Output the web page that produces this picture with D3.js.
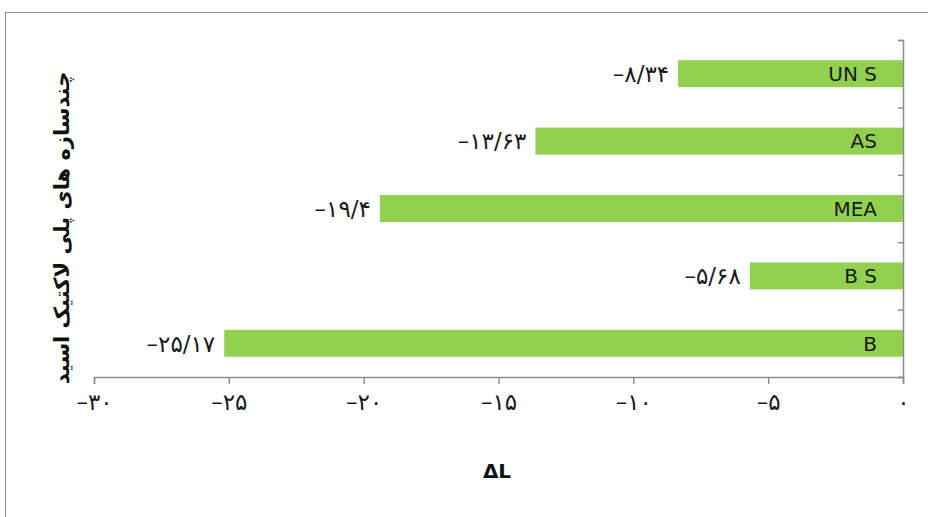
<!DOCTYPE html>
<html>
<head>
<meta charset="utf-8">
<script src="https://cdn.jsdelivr.net/npm/d3@7"></script>
<style>
  body { margin: 0; background: #fff; }
  text { font-family: "DejaVu Sans", sans-serif; }
</style>
</head>
<body>
<svg id="chart"></svg>
<script>
// data, top to bottom
const categories = ["UN S", "AS", "MEA", "B S", "B"];
const values = [-8.34, -13.63, -19.4, -5.68, -25.17];
const xTicks = [-30, -25, -20, -15, -10, -5, 0];
const yTitle = "چندسازه های پلی لاکتیک اسید";
const xTitle = "ΔL";

const W = 928, H = 517;
const faDigits = "۰۱۲۳۴۵۶۷۸۹";
// persian digits, "/" as decimal sign like the original
function fa(v) {
  const s = String(Math.abs(v)).replace(".", "/").replace(/[0-9]/g, (d) => faDigits[+d]);
  return (v < 0 ? "\u2013" : "") + s;
}

const svg = d3.select("#chart").attr("width", W).attr("height", H);

// outer frame
svg.append("rect")
  .attr("x", 5.5).attr("y", 12.5)
  .attr("width", 960).attr("height", 540)
  .attr("fill", "none").attr("stroke", "#8e8e8e");

const pLeft = 94, pRight = 903, pTop = 40, pBottom = 377;
const x = d3.scaleLinear([-30, 0], [pLeft, pRight]);
const y = d3.scaleBand(categories, [pTop, pBottom]).paddingInner(0.6).paddingOuter(0.3);
const yEdge = d3.scaleLinear([0, categories.length], [pTop, pBottom]);

// bars
svg.selectAll("rect.bar")
  .data(values)
  .join("rect")
  .attr("class", "bar")
  .attr("x", (d) => x(d))
  .attr("y", (d, i) => y(categories[i]))
  .attr("width", (d) => x(0) - x(d))
  .attr("height", y.bandwidth())
  .attr("fill", "#92d050");

// value labels
svg.selectAll("text.val")
  .data(values)
  .join("text")
  .attr("class", "val")
  .attr("x", (d) => x(d) - 9)
  .attr("y", (d, i) => y(categories[i]) + y.bandwidth() / 2)
  .attr("dy", "0.36em")
  .attr("text-anchor", "end")
  .attr("font-size", 23)
  .attr("letter-spacing", 1)
  .attr("fill", "#1a1a1a")
  .text((d) => fa(d));

// category names inside bars
svg.selectAll("text.cat")
  .data(categories)
  .join("text")
  .attr("class", "cat")
  .attr("x", pRight - 26)
  .attr("y", (d) => y(d) + y.bandwidth() / 2)
  .attr("dy", "0.36em")
  .attr("text-anchor", "end")
  .attr("font-size", 20)
  .attr("font-family", "Open Sans, sans-serif")
  .attr("fill", "#1a1a1a")
  .text((d) => d);

// x axis
const xAxis = svg.append("g")
  .attr("transform", "translate(0," + pBottom + ")")
  .call(d3.axisBottom(x).tickValues(xTicks).tickSize(7).tickPadding(10).tickFormat(fa));
xAxis.select(".domain").attr("stroke", "#8e8e8e").attr("stroke-width", 1.5);
xAxis.selectAll(".tick line").attr("stroke", "#8e8e8e").attr("stroke-width", 1.5);
xAxis.selectAll(".tick text").attr("font-size", 23).attr("letter-spacing", 1).attr("fill", "#1a1a1a")
  .attr("font-family", "DejaVu Sans, sans-serif");

// y axis on the zero line, ticks between categories
const yAxis = svg.append("g")
  .attr("transform", "translate(" + pRight + ",0)")
  .call(d3.axisLeft(yEdge).ticks(categories.length).tickSize(5).tickSizeOuter(5).tickFormat(""));
yAxis.select(".domain").attr("stroke", "#8e8e8e").attr("stroke-width", 1.5);
yAxis.selectAll(".tick line").attr("stroke", "#8e8e8e").attr("stroke-width", 1.5);

// axis titles
svg.append("text")
  .attr("transform", "translate(69,228) rotate(-90)")
  .attr("text-anchor", "middle")
  .attr("direction", "rtl")
  .attr("font-size", 21)
  .attr("font-weight", "bold")
  .attr("fill", "#111")
  .text(yTitle);

svg.append("text")
  .attr("x", 497)
  .attr("y", 478)
  .attr("text-anchor", "middle")
  .attr("font-size", 20)
  .attr("font-weight", "bold")
  .attr("fill", "#111")
  .text(xTitle);
</script>
</body>
</html>
